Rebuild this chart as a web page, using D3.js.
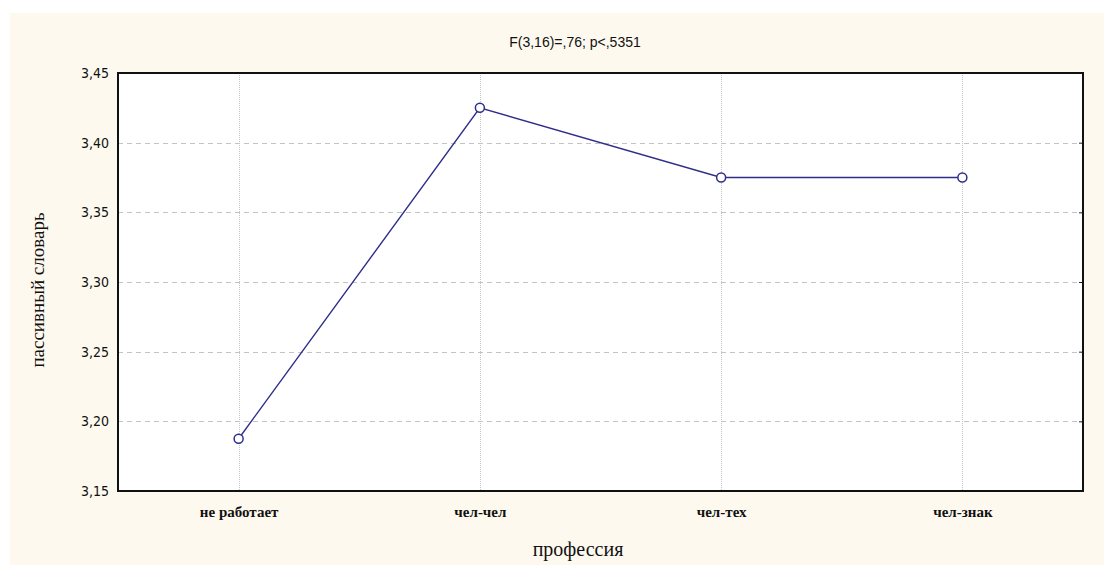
<!DOCTYPE html>
<html>
<head>
<meta charset="utf-8">
<script src="https://cdn.jsdelivr.net/npm/d3@7"></script>
<style>
  body { margin: 0; background: #fff; }
</style>
</head>
<body>
<div id="app"></div>
<script>
// data
var categories = ['не работает', 'чел-чел', 'чел-тех', 'чел-знак'];
var values = [3.1875, 3.425, 3.375, 3.375];
var yTicks = [3.15, 3.20, 3.25, 3.30, 3.35, 3.40, 3.45];
var title = 'F(3,16)=,76; p<,5351';
var xTitle = 'профессия';
var yTitle = 'пассивный словарь';

var W = 1104, H = 565;
var plotL = 118, plotR = 1083, plotT = 73, plotB = 491;

var svg = d3.select('#app')
  .append('svg')
    .attr('width', W)
    .attr('height', H);

// beige panel
svg.append('rect')
    .attr('x', 10).attr('y', 13)
    .attr('width', W - 10).attr('height', H - 13)
    .attr('fill', '#fdf9ee');

var x = d3.scalePoint()
    .domain(categories)
    .range([plotL, plotR])
    .padding(0.5);

var y = d3.scaleLinear()
    .domain([3.15, 3.45])
    .range([plotB, plotT]);

var ru = d3.formatLocale({decimal: ',', thousands: ' ', grouping: [3], currency: ['', '']});
var fmt = ru.format('.2f');

// plot area
svg.append('rect')
    .attr('x', plotL).attr('y', plotT)
    .attr('width', plotR - plotL).attr('height', plotB - plotT)
    .attr('fill', '#fff');

// grid
var grid = svg.append('g').attr('class', 'grid')
    .attr('stroke', '#c4c4c4')
    .attr('stroke-width', 1)
    .attr('stroke-dasharray', '5,4');

grid.selectAll('.h')
    .data(yTicks.slice(1, -1))
  .enter().append('line')
    .attr('class', 'h')
    .attr('x1', plotL).attr('x2', plotR)
    .attr('y1', function(d){ return Math.round(y(d)) + 0.5; })
    .attr('y2', function(d){ return Math.round(y(d)) + 0.5; });

grid.selectAll('.v')
    .data(categories)
  .enter().append('line')
    .attr('class', 'v')
    .attr('stroke-dasharray', '1,1')
    .attr('x1', function(d){ return Math.round(x(d)) + 0.5; })
    .attr('x2', function(d){ return Math.round(x(d)) + 0.5; })
    .attr('y1', plotT).attr('y2', plotB);

// y axis labels
svg.append('g')
    .attr('transform', 'translate(' + plotL + ',0)')
    .call(d3.axisLeft(y).tickValues(yTicks).tickFormat(fmt).tickSize(0).tickPadding(9))
    .call(function(g){ g.select('.domain').remove(); })
    .selectAll('text')
      .attr('font-family', 'DejaVu Sans Condensed, Liberation Sans, sans-serif')
      .attr('font-size', 14)
      .attr('fill', '#111');

// small ticks on the right edge
svg.append('g')
    .attr('transform', 'translate(' + plotR + ',0)')
    .call(d3.axisLeft(y).tickValues(yTicks).tickSize(4).tickFormat(''))
    .call(function(g){ g.select('.domain').remove(); })
    .selectAll('line').attr('stroke', '#222');

// x axis labels
svg.append('g')
    .attr('transform', 'translate(0,' + plotB + ')')
    .call(d3.axisBottom(x).tickSize(0).tickPadding(15))
    .call(function(g){ g.select('.domain').remove(); })
    .selectAll('text')
      .attr('font-family', 'Liberation Serif, Times New Roman, serif')
      .attr('font-weight', 'bold')
      .attr('font-size', 15)
      .attr('fill', '#111');

// border
svg.append('rect')
    .attr('x', plotL).attr('y', plotT)
    .attr('width', plotR - plotL).attr('height', plotB - plotT)
    .attr('fill', 'none')
    .attr('stroke', '#111')
    .attr('stroke-width', 2);

// series
var line = d3.line()
    .x(function(d, i){ return x(categories[i]); })
    .y(function(d){ return y(d); });

svg.append('path')
    .datum(values)
    .attr('d', line)
    .attr('fill', 'none')
    .attr('stroke', '#2e2e8a')
    .attr('stroke-width', 1.4);

svg.selectAll('circle')
    .data(values)
  .enter().append('circle')
    .attr('cx', function(d, i){ return x(categories[i]); })
    .attr('cy', function(d){ return y(d); })
    .attr('r', 4.5)
    .attr('fill', '#fff')
    .attr('stroke', '#2e2e8a')
    .attr('stroke-width', 1.5);

// titles
svg.append('text')
    .attr('x', 575).attr('y', 47)
    .attr('text-anchor', 'middle')
    .attr('font-family', 'Liberation Sans, Arial, sans-serif')
    .attr('font-size', 14)
    .attr('fill', '#111')
    .text(title);

svg.append('text')
    .attr('x', 578).attr('y', 556)
    .attr('text-anchor', 'middle')
    .attr('font-family', 'Liberation Serif, Times New Roman, serif')
    .attr('font-size', 20)
    .attr('fill', '#111')
    .text(xTitle);

svg.append('text')
    .attr('transform', 'translate(44,290) rotate(-90)')
    .attr('text-anchor', 'middle')
    .attr('font-family', 'Liberation Serif, Times New Roman, serif')
    .attr('font-size', 19)
    .attr('fill', '#111')
    .text(yTitle);
</script>
</body>
</html>
